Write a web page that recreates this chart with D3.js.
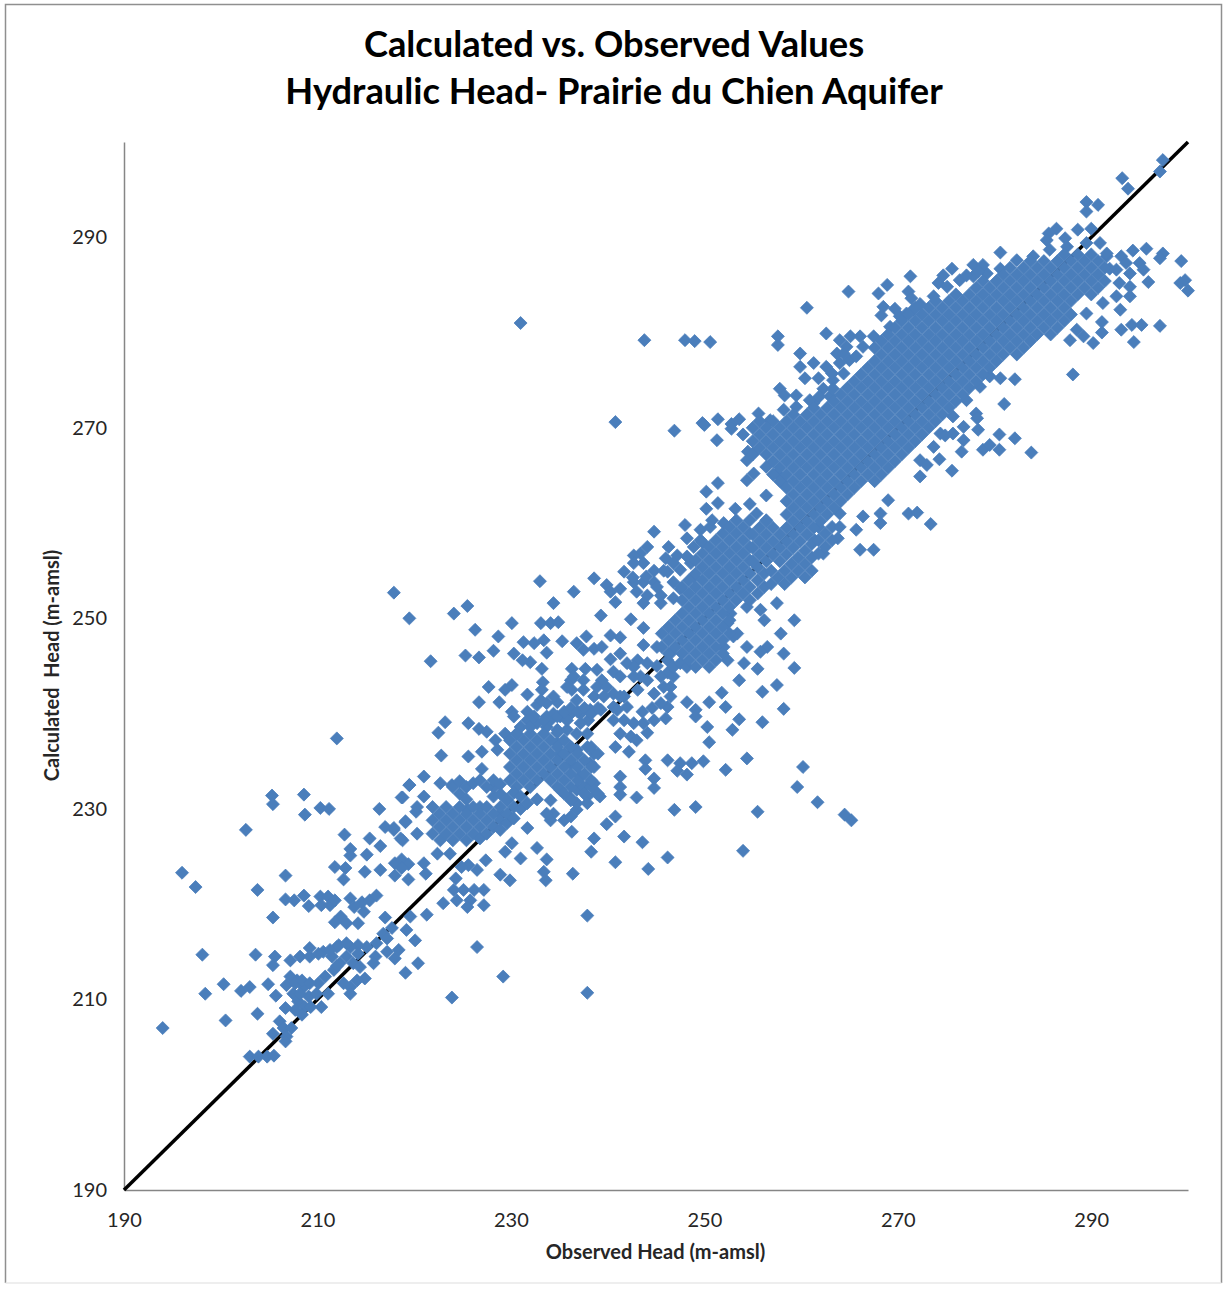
<!DOCTYPE html>
<html>
<head>
<meta charset="utf-8">
<title>Calculated vs. Observed Values</title>
<script src="https://cdn.jsdelivr.net/npm/d3@7"></script>
<style>
body { margin: 0; background: #fff; }
svg { display: block; font-family: Lato, "Open Sans", sans-serif; }
</style>
</head>
<body>
<svg></svg>
<script>
const width = 1224;
const height = 1289;

const titleLines = ['Calculated vs. Observed Values', 'Hydraulic Head- Prairie du Chien Aquifer'];
const xAxisTitle = 'Observed Head (m-amsl)';
const yAxisTitle = 'Calculated\u00a0\u00a0Head (m-amsl)';
const tickValues = [190, 210, 230, 250, 270, 290];
const oneToOne = [190, 300];

// [observed, calculated], low end first
const lowScatter = [[194,207],[198.1,214.7],[198.4,210.6],[200.3,211.6],[202.1,210.9],[203,211.3],[200.5,207.8],[203.8,208.5],[204.9,211.6],[205.7,210.4],[203.6,214.7],[196,223.3],[197.4,221.8],[203.8,221.5],[206.7,223],[202.6,227.8],[205.3,231.4],[205.4,230.5],[208.6,231.5],[208.7,229.4],[210.3,230.1],[211.2,230],[216.4,230],[218.8,231.2],[219.5,232.5],[212.8,227.3],[215.4,226.9],[216.5,226.1],[217,228.1],[217.9,227.8],[219.1,228.6],[218.8,226.7],[220.2,229.7],[213.4,225.8],[213.4,225.1],[215.1,225.2],[211.8,223.9],[212.9,223.8],[212.7,222.6],[214.9,223.4],[216.5,223.6],[218,224.3],[218.7,224.7],[219.4,224.2],[218.7,223.8],[218,223],[219.4,222.6],[212,237.4],[223.9,210.2],[229.2,212.4],[237.9,210.7],[226.5,215.5]];

const lowBand = [[206.7,220.5],[207.6,220.4],[208.6,220.9],[209.1,219.8],[210.3,220.8],[211.1,220.8],[210.4,219.9],[211.3,219.9],[211.8,220.4],[205.4,218.6],[213.4,220.6],[213.8,219.7],[212.4,218.7],[213,218],[211.8,218.1],[214.6,220.2],[215.4,220.4],[216.1,220.9],[214.8,219.2],[214.2,218],[217,218.6],[216.8,216.9],[216.1,215.9],[219.2,217.3],[220.1,216.2],[220.4,213.8],[219.1,212.8],[217.2,215],[218,214.3],[218.4,215.2],[216,214.5],[215.1,215.5],[214.2,215.7],[213.4,215.5],[212.2,215.7],[210.6,215],[209.2,215.4],[208.2,214.5],[207.2,214.1],[205.6,214.5],[205.4,213.6],[214.9,212.2],[213.4,211.3],[212.7,211.7],[214.1,212],[213.4,210.6],[213,214.5],[214.2,214.8],[213.7,213.8],[212.3,213.8],[211.7,213.1],[210.8,212.4],[210.1,211.7],[211.1,210.6],[210.4,209.2],[207.2,212.4],[207.9,212],[206.8,211.5],[207.5,210.6],[208.6,211.3],[209.1,210.3],[208,209.8],[208.7,209.2],[207.7,208.9],[208.4,208.4],[206.7,209.1],[206.1,207.7],[205.4,206.4],[206.5,207],[206.8,206.1],[206.7,205.6],[207.3,207],[203,204],[203.9,204],[204.8,204],[205.5,204.1],[207.7,211.7],[208.4,212],[209.2,211.7],[208.2,210.6],[209.3,209.2],[209.9,210.6],[212,215.5],[213,215.9],[211.5,214.5],[212,213.5],[214.4,213.4],[215.8,213.8],[217.2,216.4],[217.7,217.5],[209.2,214.5],[210.1,214.8],[211.3,215.2]];

const midScatter = [[217.9,252.7],[219.5,250],[221.7,245.5],[224.1,250.5],[225.5,251.3],[226.3,248.8],[230.1,249.5],[228.7,248.1],[225.3,246.1],[226.7,245.9],[228.2,246.6],[230.3,246.3],[231.3,247.5],[232.4,247.4],[231.2,245.6],[233.4,247.7],[233,253.9],[236.5,252.8],[234.4,251.6],[233.1,249.5],[234.1,249.5],[234.9,249.6],[235.3,247.6],[233.7,246.4],[232,245.4],[236.8,247.4],[237.8,248.1],[237.5,246.7],[238.6,246.8],[239.4,247],[239.3,250.3],[238.6,254.2],[242.4,249.9],[243.7,249],[240.3,248.2],[241.3,248],[240.3,245.7],[241.3,246.3],[233.2,244.7],[233.3,243.3],[233.2,242.5],[236.3,244.7],[237.7,244.7],[236.2,243.5],[237.5,243.5],[239.4,243.5],[238.9,244.6],[240.6,244.4],[242,245.3],[243.1,245.6],[243.7,247.2],[236.3,242.5],[236.8,241.4],[234.8,241.2],[227.7,242.8],[229.4,242.5],[230.1,243],[231.7,242],[226.7,241.2],[228.8,241.2],[230.1,240.2],[231.7,240.2],[232.7,240.9],[233.7,241.1],[231.7,239.3],[232.7,239],[223.2,239.1],[222.5,238],[225.6,239],[226.7,238.4],[227.5,238.1],[228.4,237.2],[228.6,236.2],[227,236],[225.6,235.5],[222.8,235.6],[227,234.2],[229.4,237.9],[230.6,237.9],[230.3,239.7],[236.5,243.9],[237.5,242.5],[238.9,242.8],[239.9,242.8],[241.3,243.9],[238.6,241.8],[239.6,241.8],[240.6,242.1],[242.7,244.9],[244.1,245.3],[243.4,243.9],[235.8,242.8],[234.4,241.8],[233.1,241.4],[232.4,239.7],[231,238.6],[233.7,238.6],[240.6,240.7],[240.6,239.3],[241.7,241.8],[241.3,237.9],[242.4,237.6],[243.6,240.2],[244.6,240.6],[246.2,244.3],[245.1,245],[246.5,242.8],[246.2,240.7]];

const midBlob = [[235.1,235.8],[236.2,236.5],[234.8,236.9],[236.8,236.2],[237.9,236.5],[238.6,235.8],[238.2,234.8],[236.2,234.8],[237.2,233.4],[238.2,232.7],[238.9,231.6],[237.9,231.3],[236.8,232],[235.1,232],[234.1,230.9],[234.4,229.5],[235.5,228.8],[236.8,229.9],[236.1,231.2],[237.2,240],[238.2,240.4],[239.3,240.4],[236.2,240],[235.1,239.7],[234.1,239.3],[238,239.3],[241.3,241.8],[242,240.7],[241,240.4],[241.7,239.3],[242.7,239],[243.7,239],[244.8,239.3],[244.1,238],[243,237.2],[242.2,236],[240.8,236.5],[246,239.5],[244.1,243.5],[243.1,242.5],[245.8,242.8],[246.5,241.8],[245.5,241.1],[244.8,242.1],[242.7,243.9],[246.8,243.9],[245.5,243.9],[233.7,239.7],[234.4,240],[232,239.3],[233.4,237.9],[234.8,238.3],[235.8,238.3],[236.8,237.9],[237.9,237.9],[235.8,239.3],[237.2,239],[238.6,234.4],[237.5,232.3],[238.6,232.7],[239.2,231.3],[237.9,230.6],[236.8,230.6],[236.2,229.2],[233.7,229.5],[234.1,228.8]];

const midColumns = [
  [229.9,[233,234.4,235.8,237.2]],
  [230.6,[232.3,233.7,235.1,236.5,237.9]],
  [231.3,[233,234.4,235.8,237.2]],
  [232,[232.3,233.7,235.1,236.5,237.9,238.6]],
  [232.7,[231,233,234.4,235.8,237.2]],
  [233.4,[233.7,235.1,236.5,239.3]],
  [234.1,[233,234.4,235.8,237.2]],
  [234.8,[232.3,233.7,235.1,236.5,238,239.7]],
  [235.5,[231.6,233,234.4,235.8,237.2,240.2]],
  [236.2,[230.9,232.3,233.7,235.1,236.5,240.6]],
  [236.9,[233,234.4,235.8,240.2]],
  [237.6,[231.6,233.7,235.1,240.6]],
  [238.3,[232.3,233,234.4,236.5,240]],
  [239,[231.6,235.8,240.6]]
];

const bananaColumns = [
  [221.9,[227.4,228.8,230.2]],
  [222.6,[228.1,229.5]],
  [223.3,[227.4,228.8,230.2]],
  [224,[226.7,228.1,229.5,232.3]],
  [224.7,[227.4,228.8,230.2,231.6,232.9]],
  [225.4,[226.7,228.1,229.5,231,232.3]],
  [226.1,[227.4,228.8,230.2,232.7]],
  [226.8,[226.9,228.1,229.5,233]],
  [227.5,[227.4,228.8,230.2,232.3]],
  [228.2,[228.1,229.5,231.3,233]],
  [228.9,[227.8,228.8,230.2,231.6,232.6]],
  [229.6,[228.5,229.5,231]],
  [230.3,[229,230.2,231.7]],
  [231,[230,231.3]],
  [231.7,[230.6]]
];

const banana = [[228.9,229.5],[229.6,230.9],[226.8,230.2],[225.5,229.9],[228.2,232.3],[222.7,232.7],[221,233.4],[219.5,232.5],[218.7,231.2],[220.3,230.2],[217.9,228],[219.1,228.7],[220.3,227.4],[218.6,226.9],[221,231.3],[223.9,232.5],[222.7,226.7],[222.4,225.3],[223.7,225.3],[221,224.3],[221.2,223.2],[224.1,221.5],[225.1,221.5],[226.2,221.5],[227.2,221.5],[223,220.1],[224.4,220.4],[225.8,220.4],[227.2,219.9],[225.5,219.7],[224.3,222.7],[219.6,218.7],[221.3,218.9],[225.6,224.1],[224.9,223.9]];

const belowLine = [[246.9,229.9],[249.1,230.2],[255.5,229.7],[240.8,229.2],[239.9,228.4],[238.6,226.9],[238.3,225.5],[241.7,227.1],[243.6,226.5],[240.8,224.4],[244.2,223.7],[246.2,224.9],[254,225.6],[236.4,223.2],[237.9,218.8],[236.3,227.6],[231.7,228],[230.1,226.4],[229.4,225.5],[231,224.8],[232.7,225.9],[233.7,224.7],[233.4,223.4],[233.6,222.5],[228.9,223.1],[229.9,222.5],[227.4,224.6],[226.5,223.6],[260.2,234.4],[259.6,232.3],[261.7,230.7],[264.5,229.4],[265.2,228.8],[253.6,243.5],[256,242.3],[257.5,243],[251.8,242.2],[259.3,244.8],[258.2,240.5],[253.6,239.4],[252.9,238.3],[256,239.1],[250.3,238.6],[250.5,237],[252.2,240.7],[248.2,241.2],[249.1,240.4],[250.5,241.2],[249.1,239.7],[254.4,235.3],[252.2,234.1],[246.2,235.1],[247.5,234.8],[248.7,234.8],[249.9,235],[247.2,234],[248.2,233.6],[243.9,235.1],[243.9,234.2],[241.3,233.4],[241.3,232.3],[241.3,231.5],[244.8,233.2],[244.8,232.2],[243,231.2],[255.8,250.9],[257.5,251.6],[256.2,249.8],[254.4,247],[256.5,247],[258.2,246.3],[255.5,244.7],[254.1,245.3],[259.3,249.8],[257.9,248.4],[255.8,246.5],[253.4,248.4]];

const secondBlob = [[243.4,256.8],[242.7,256.6],[244.1,257.5],[244.8,259.1],[248,259.8],[248.2,258.4],[246.3,257.5],[247.2,256.6],[246,256.3],[241.7,254.9],[243.7,253.8],[242.7,253.8],[244.8,253.8],[239.9,253.5],[240.3,252.8],[241.3,253.1],[240.8,251.7],[246.2,254.9],[246.8,253.8],[247.5,253.1],[245.5,252.4],[244.1,252.4],[243,252.8],[243.7,251.6],[245.5,251.6],[246.8,252.1],[248.6,255.8],[249.6,258.2],[250.6,259.6],[252,260],[247.5,255.1],[248.9,254.4],[242.6,254.3],[244,254.4],[245.1,253.3],[249.8,258],[246.2,245.6],[246.8,244.9],[245.1,247],[246.5,246.3],[247.5,245.3],[248.2,244.9],[252.4,245.6],[252,247],[253,248.1],[252.4,249.5],[252.7,250.5],[254.4,251.2],[242.7,255.8],[243.7,255.8],[244.8,255],[245.8,255],[246.8,255.8],[249.6,259.3],[248.9,257.5],[248.2,256.5]];

const secondColumns = [
  [245.6,[247,248.4]],
  [246.3,[246.3,247.7,249.1]],
  [247,[247,248.4,249.8]],
  [247.7,[246.3,247.7,249.1,250.5,251.9,253.3]],
  [248.4,[245.6,247,248.4,249.8,251.2,252.6,254]],
  [249.1,[244.9,246.3,247.7,249.1,250.5,251.9,253.3,254.7,256.1]],
  [249.8,[245.6,247,248.4,249.8,251.2,252.6,254,255.4,256.8]],
  [250.5,[244.9,246.3,247.7,249.1,250.5,251.9,253.3,254.7,256.1,257.5]],
  [251.2,[245.6,247,248.4,249.8,251.2,252.6,254,255.4,256.8,258.2]],
  [251.9,[246.3,247.7,249.1,250.5,251.9,253.3,254.7,256.1,257.5,258.9]],
  [252.6,[248.4,249.8,251.2,252.6,254,255.4,256.8,258.2,259.6]],
  [253.3,[251.9,253.3,254.7,256.1,257.5,258.9,260.3]],
  [254,[252.6,254,255.4,256.8,258.2,259.6]],
  [254.7,[251.9,253.3,254.7,256.1,257.5,258.9,260.3]],
  [255.5,[252.6,254,255.4]],
  [256.2,[253.3,254.7]],
  [256.9,[253.6,255]],
  [257.6,[254.3]],
  [258.3,[253.6,255]],
  [259,[254.3,255.7]],
  [259.7,[255,256.4]],
  [260.4,[254.3,255.7,257.1]],
  [261.1,[255,256.4,257.8]],
  [261.8,[256.8,258.2,259.6]],
  [262.5,[257.5,258.9]],
  [263.2,[258.2,259.6]],
  [264,[259.6,261]]
];

const coreColumns = [
  [255,[256,257.4,258.8,267.2,268.6,270]],
  [255.7,[256.7,258.1,259.5,267.9,269.3,270.7]],
  [256.4,[256,257.4,258.8,260.2,262.9,267.2,268.6,270]],
  [257.1,[256.7,258.1,259.5,265.1,266.5,267.9,269.3,270.7]],
  [257.8,[256,257.4,258.8,264.4,265.8,267.2,268.6,270]],
  [258.5,[256.7,258.1,259.5,260.9,262.3,263.7,265.1,266.5,267.9,269.3,270.7]],
  [259.2,[257.4,258.8,260.2,261.6,263,264.4,265.8,267.2,268.6,270,271.4]],
  [259.9,[258.1,259.5,260.9,262.3,263.7,265.1,266.5,267.9,269.3,270.7]],
  [260.6,[258.8,260.2,261.6,263,264.4,265.8,267.2,268.6,270,271.4]],
  [261.3,[259.5,260.9,262.3,263.7,265.1,266.5,267.9,269.3,270.7,272.1]],
  [262,[260.2,261.6,263,264.4,265.8,267.2,268.6,270,271.4]],
  [262.7,[260.9,262.3,263.7,265.1,266.5,267.9,269.3,270.7,272.1]],
  [263.4,[261.6,263,264.4,265.8,267.2,268.6,270,271.4,272.8]],
  [264.1,[262.3,263.7,265.1,266.5,267.9,269.3,270.7,272.1,273.5]],
  [264.8,[263,264.4,265.8,267.2,268.6,270,271.4,272.8,274.2]],
  [265.5,[263.7,265.1,266.5,267.9,269.3,270.7,272.1,273.5,274.9]],
  [266.2,[264.4,265.8,267.2,268.6,270,271.4,272.8,274.2,275.6]],
  [266.9,[265.1,266.5,267.9,269.3,270.7,272.1,273.5,274.9,276.3]],
  [267.6,[264.4,265.8,267.2,268.6,270,271.4,272.8,274.2,275.6,277,278.4]],
  [268.3,[265.1,266.5,267.9,269.3,270.7,272.1,273.5,274.9,276.3,277.7,279.1]],
  [269,[265.8,267.2,268.6,270,271.4,272.8,274.2,275.6,277,278.4,279.8]],
  [269.7,[266.5,267.9,269.3,270.7,272.1,273.5,274.9,276.3,277.7,279.1,280.5]],
  [270.4,[267.2,268.6,270,271.4,272.8,274.2,275.6,277,278.4,279.8,281.2]],
  [271.1,[267.9,269.3,270.7,272.1,273.5,274.9,276.3,277.7,279.1,280.5,281.9]],
  [271.8,[268.6,270,271.4,272.8,274.2,275.6,277,278.4,279.8,281.2,282.6]],
  [272.5,[269.3,270.7,272.1,273.5,274.9,276.3,277.7,279.1,280.5,281.9]],
  [273.2,[270,271.4,272.8,274.2,275.6,277,278.4,279.8,281.2,282.6]],
  [273.9,[270.7,272.1,273.5,274.9,276.3,277.7,279.1,280.5,281.9,283.3]],
  [274.6,[271.4,272.8,274.2,275.6,277,278.4,279.8,281.2,282.6]],
  [275.3,[272.1,273.5,274.9,276.3,277.7,279.1,280.5,281.9,283.3]],
  [276,[272.8,274.2,275.6,277,278.4,279.8,281.2,282.6,284]],
  [276.7,[273.5,274.9,276.3,277.7,279.1,280.5,281.9,283.3]],
  [277.4,[274.2,275.6,277,278.4,279.8,281.2,282.6,284]],
  [278.1,[274.9,276.3,277.7,279.1,280.5,281.9,283.3,284.7]],
  [278.8,[275.6,277,278.4,279.8,281.2,282.6,284,285.4]],
  [279.5,[276.3,277.7,279.1,280.5,281.9,283.3,284.7]],
  [280.2,[277,278.4,279.8,281.2,282.6,284,285.4]],
  [280.9,[277.7,279.1,280.5,281.9,283.3,284.7,286.1]],
  [281.6,[278.4,279.8,281.2,282.6,284,285.4,286.8]],
  [282.3,[277.7,279.1,280.5,281.9,283.3,284.7,286.1]],
  [283,[278.4,279.8,281.2,282.6,284,285.4,286.8]],
  [283.7,[279.1,280.5,281.9,283.3,284.7,286.1,287.5]],
  [284.4,[279.8,281.2,282.6,284,285.4,286.8]],
  [285.1,[280.5,281.9,283.3,284.7,286.1,287.5]],
  [285.8,[279.8,281.2,282.6,284,285.4,286.8]],
  [286.5,[280.5,281.9,283.3,284.7,286.1,287.5]],
  [287.2,[281.2,282.6,284,285.4,286.8,288.2]],
  [287.9,[281.9,283.3,284.7,286.1,287.5]],
  [288.6,[284,285.4,286.8,288.2]],
  [289.3,[284.7,286.1,287.5]],
  [290,[284,285.4,286.8,288.2]],
  [290.7,[284.7,286.1,287.5]],
  [291.4,[285.4,286.8]]
];

// loose edge of the dense band, upper side then lower side
const coreEdge = [[264.7,278.5],[263.7,277.8],[265,277.1],[264.4,275.7],[263.3,275],[262.3,274.1],[266.4,278.5],[267.5,279.6],[269.2,280.6],[270.2,281.7],[271.6,282.4],[272.3,283],[273.7,283.8],[275.1,284.8],[276.4,285.5],[277.8,285.9],[279.2,286.2],[280.6,286.7],[282.3,287.6],[284,288],[285.7,288.7],[287.5,289],[289.5,289.4],[290.9,289.4],[291.6,288],[256.8,270.8],[258.2,271.9],[259.5,272.2],[261.3,272.6],[263,273.3],[255,267.3],[256.4,265.9],[257.5,265.2],[279.5,275.4],[278.5,274.3],[277.1,272.9],[275.7,271.2],[274.4,269.4],[273.7,268],[272.3,266.6]];

const upperScatter = [[231,281],[243.8,279.2],[248,279.2],[249,279.1],[250.6,279],[240.8,270.6],[246.9,269.7],[249.8,270.5],[251.4,270.9],[252.8,270.4],[251.3,268.7],[257.6,279.6],[257.6,278.7],[260.6,282.6],[264.9,284.3],[268,284.1],[268.9,285],[271.3,285.9],[271.1,284.3],[271.4,283.6],[280.6,288.4],[268.5,282.7],[269.7,282.5],[268.3,281.8],[270.9,282],[262.6,279.9],[264,279.2],[265.1,279.6],[266.1,279.6],[264.4,277.8],[265.7,277.5],[259.9,277.8],[259.9,276.4],[261.3,276.8],[262.6,276.4],[260.4,275.2],[261.8,275.2],[263.2,275.7],[264,276.8],[263.3,274.1],[257.8,274.1],[258.3,273.4],[259.5,273.4],[260.9,272.9],[261.9,273.3],[255.6,271.5],[250,270.3],[252.8,269.9],[253.6,270.9],[254,269.3],[254.5,267.5],[254.4,266.6],[255.1,265.2],[254.4,264.5],[251.4,264.2],[250.2,263.3],[251.4,262.1],[250.2,261.5],[253.2,261.5],[254.7,262],[255.4,261],[256.4,260.3],[258,264.3],[250.8,260.3],[275.6,286.7],[274.7,286],[274.2,285.2],[277.8,287.1],[278.8,287.1],[277.1,286],[278.3,286.4]];

const upperRight = [[288.1,275.6],[283.8,267.4],[282.1,268.9],[280.5,269.3],[280.5,267.7],[278.8,267.7],[279.5,268.2],[281,272.5],[278.1,271.5],[278.2,271],[278.3,269.8],[276.8,270.1],[276.8,268.7],[276.6,267.5],[275.7,269.4],[274.9,269.2],[274.3,266.7],[275.6,265.5],[273,266.1],[272.3,264.9],[271.1,261],[272,261.1],[273.4,259.9],[269,262.4],[268.2,261],[266.4,260.7],[268.2,260],[265.7,259.3],[263.8,258.4],[266.1,257.2],[267.5,257.2],[261.4,258.2],[262.3,256.8],[280.6,275.2],[282.1,275.1],[289.5,282],[291.1,281.1],[291.1,280],[288.5,280.3],[287.8,279.2],[289.2,279.6],[290.2,278.9],[293.1,280.3],[294.2,280.8],[295.2,280.8],[297.1,280.7],[294.4,279],[297.4,288.3],[297.1,287.8],[299.3,287.5],[299.2,285.2],[299.7,285.5],[300,284.4],[295.7,288.8],[294.3,288.6],[293.1,288],[293.6,287.3],[295,287.3],[292.6,286.6],[294,286.2],[295.4,286.6],[295.9,285.3],[292.9,285.2],[294,284.8],[292.6,283.8],[294,283.8],[293,282.4],[291.6,288.3],[291.9,286.7],[291.2,283.1],[297.4,298.1],[297.1,296.9],[293.2,296.2],[293.8,295.1],[289.5,293.7],[289.5,292.7],[290.7,293.4],[290,290.9],[288.6,290.8],[286.4,290.9],[285.6,290.4],[287.3,289.9],[285.4,289.7]];

const columnPoints = cols => cols.flatMap(([obs, calcs]) => calcs.map(calc => [obs, calc]));
const points = [lowScatter, lowBand, midScatter, midBlob, banana, belowLine, secondBlob, coreEdge, upperScatter, upperRight,
  columnPoints(midColumns), columnPoints(bananaColumns), columnPoints(secondColumns), columnPoints(coreColumns)].flat();

const svg = d3.select('svg').attr('width', width).attr('height', height);

// chart frame: bottom edge is much fainter in the picture
const frame = svg.append('g').attr('fill', 'none').attr('stroke-width', 1.5);
frame.append('path').attr('d', 'M5.5,1283V4.5H1221.5V1283').attr('stroke', '#8f8f8f');
frame.append('path').attr('d', 'M5.5,1283H1221.5').attr('stroke', '#e8e8e8');

const x = d3.scaleLinear().domain([190, 300]).range([124, 1188]);
const y = d3.scaleLinear().domain([190, 300]).range([1190, 142]);

const xAxis = d3.axisBottom(x).tickValues(tickValues).tickSize(0).tickPadding(23).tickFormat(d3.format('d'));
const yAxis = d3.axisLeft(y).tickValues(tickValues).tickSize(0).tickPadding(17).tickFormat(d3.format('d'));

svg.append('g').attr('transform', 'translate(0,1190)').call(xAxis);
svg.append('g').attr('transform', 'translate(124,0)').call(yAxis);
svg.selectAll('.domain').attr('stroke', '#868686').attr('stroke-width', 1.5);
svg.selectAll('.tick text').attr('font-size', 20).attr('font-family', 'Lato, sans-serif').attr('fill', '#262626');

// 1:1 line sits under the points
svg.append('path')
  .datum(oneToOne)
  .attr('d', d3.line().x(d => x(d)).y(d => y(d)))
  .attr('stroke', '#000').attr('stroke-width', 3.5).attr('fill', 'none');

const diamond = d3.symbol().type(d3.symbolDiamond2).size(108);
svg.append('g').selectAll('path').data(points)
  .enter().append('path')
    .attr('d', diamond)
    .attr('transform', d => `translate(${x(d[0])},${y(d[1])})`)
    .attr('fill', '#4a7ebb')
    .attr('stroke', '#4a7ebb')
    .attr('stroke-width', 0.8);

svg.append('g').selectAll('text').data(titleLines)
  .enter().append('text')
    .attr('x', 614)
    .attr('y', (d, i) => 57 + i * 47)
    .attr('text-anchor', 'middle')
    .attr('font-size', 36.3)
    .attr('font-weight', 700)
    .attr('fill', '#000')
    .text(d => d);

svg.append('text')
  .attr('x', 655.5).attr('y', 1259)
  .attr('text-anchor', 'middle')
  .attr('font-size', 20).attr('font-weight', 700).attr('fill', '#262626')
  .text(xAxisTitle);

svg.append('text')
  .attr('transform', 'translate(59,665.5) rotate(-90)')
  .attr('text-anchor', 'middle')
  .attr('font-size', 20).attr('font-weight', 700).attr('fill', '#262626')
  .text(yAxisTitle);
</script>
</body>
</html>
